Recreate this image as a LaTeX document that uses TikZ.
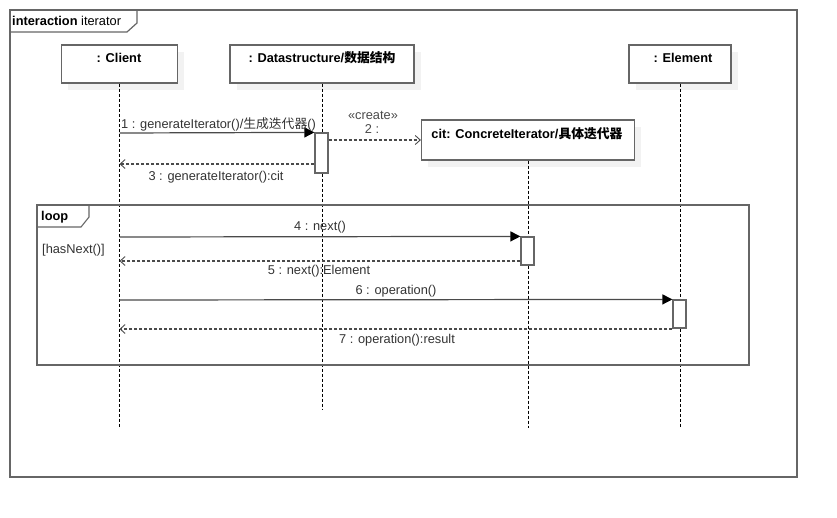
\documentclass[tikz,border=0pt]{standalone}
\usepackage{fontspec}
\setmainfont{Liberation Sans}
\newfontfamily\cjk{Noto Sans CJK SC}
\usetikzlibrary{arrows.meta}
\definecolor{boxgray}{HTML}{666666}
\definecolor{shadowgray}{HTML}{F2F2F2}
\definecolor{txtgray}{HTML}{333333}
\definecolor{linegray}{HTML}{4A4A4A}
\begin{document}
\begin{tikzpicture}[x=1pt,y=-1pt,
  every node/.style={font=\fontsize{12.8}{15}\selectfont},
  lbox/.style={draw=boxgray,line width=1.2pt,fill=white,inner sep=0pt},
  shbox/.style={fill=shadowgray,draw=none,inner sep=0pt},
  lifeline/.style={draw=black,line width=0.9pt,dash pattern=on 3pt off 2pt},
  actbox/.style={draw=boxgray,line width=1.2pt,fill=white,inner sep=0pt,minimum width=13pt},
  callmsg/.style={draw=linegray,line width=1.2pt,-{Triangle[length=10pt,width=10pt,color=black]}},
  retmsg/.style={draw=linegray,line width=1.1pt,dash pattern=on 3pt off 2pt,-{Straight Barb[length=5pt,width=9pt,line width=0.9pt]}},
  btitle/.style={font=\fontsize{12.8}{15}\selectfont\bfseries,text=black,anchor=base,inner sep=0pt},
  mlabel/.style={text=txtgray,anchor=base,inner sep=0pt}
]
\useasboundingbox (0,0) rectangle (837,517);
% outer frame
\node[draw=boxgray,line width=1.2pt,minimum width=787pt,minimum height=467pt,inner sep=0pt] (frame) at (403.5,243.5) {};
\draw[boxgray,line width=1.2pt] (10,32) -- (127,32) -- (137,23) -- (137,10);
\node[anchor=base west,inner sep=0pt] (ftitle) at (12,25) {\textbf{interaction} iterator};

% shadows
\node[shbox,minimum width=116pt,minimum height=38pt] (clientsh) at (126,71) {};
\node[shbox,minimum width=184pt,minimum height=38pt] (datash) at (329,71) {};
\node[shbox,minimum width=102pt,minimum height=38pt] (elemsh) at (687,71) {};
\node[shbox,minimum width=213pt,minimum height=40pt] (citsh) at (534.5,147) {};

% lifeline ends
\coordinate (clientend) at (119.5,428);
\coordinate (dataend) at (322,410);
\coordinate (citend) at (528,428);
\coordinate (elemend) at (680,428);

% boxes
\node[lbox,minimum width=116pt,minimum height=38pt] (client) at (119.5,64) {};
\node[lbox,minimum width=184pt,minimum height=38pt] (data) at (322,64) {};
\node[lbox,minimum width=102pt,minimum height=38pt] (elem) at (680,64) {};
\node[lbox,minimum width=213pt,minimum height=40pt] (cit) at (528,140) {};

\draw[lifeline] (client.south) -- (clientend);
\draw[lifeline] (data.south) -- (dataend);
\draw[lifeline] (cit.south) -- (citend);
\draw[lifeline] (elem.south) -- (elemend);

\node[btitle] (clientt) at (119,62) {: Client};
\node[btitle] (datat) at (322,62) {: Datastructure/{\cjk 数据结构}};
\node[btitle] (elemt) at (683,62) {: Element};
\node[btitle] (citt) at (527,138) {cit: ConcreteIterator/{\cjk 具体迭代器}};

% loop frame
\node[draw=boxgray,line width=1.2pt,minimum width=712pt,minimum height=160pt,inner sep=0pt] (loop) at (393,285) {};
\draw[boxgray,line width=1.1pt] (37,227) -- (81,227) -- (89,217) -- (89,205);
\node[anchor=base west,inner sep=0pt,font=\fontsize{12.8}{15}\selectfont\bfseries] (loopt) at (41,220) {loop};
\node[mlabel,anchor=base west] (guard) at (42,253) {[hasNext()]};

% activations
\node[actbox,minimum height=40pt] (act1) at (321.5,153) {};
\node[actbox,minimum height=28pt] (act4) at (527.5,251) {};
\node[actbox,minimum height=28pt] (act6) at (679.5,314) {};

% message anchors on client lifeline
\coordinate (c1) at (119.5,133);
\coordinate (c3) at (119.5,164);
\coordinate (c4) at (119.5,237);
\coordinate (c5) at (119.5,261);
\coordinate (c6) at (119.5,300);
\coordinate (c7) at (119.5,329);

\draw[callmsg] (c1) -- (act1.north west);
\node[mlabel,anchor=base west] (m1) at (121,128) {1 : generateIterator()/{\cjk 生成迭代器}()};
\draw[retmsg] (act1.east |- cit.west) -- (cit.west);
\node[mlabel,text=linegray] (m2a) at (373,119) {«create»};
\node[mlabel,text=linegray] (m2b) at (372,133) {2 :};
\draw[retmsg] (act1.west |- c3) -- (c3);
\node[mlabel] (m3) at (216,180) {3 : generateIterator():cit};

\draw[callmsg] (c4) -- (act4.north west);
\node[mlabel] (m4) at (320,230) {4 : next()};
\draw[retmsg] (act4.west |- c5) -- (c5);
\node[mlabel] (m5) at (319,274) {5 : next():Element};
\draw[callmsg] (c6) -- (act6.north west);
\node[mlabel] (m6) at (396,294) {6 : operation()};
\draw[retmsg] (act6.south west |- c7) -- (c7);
\node[mlabel] (m7) at (397,343) {7 : operation():result};
\end{tikzpicture}
\end{document}
